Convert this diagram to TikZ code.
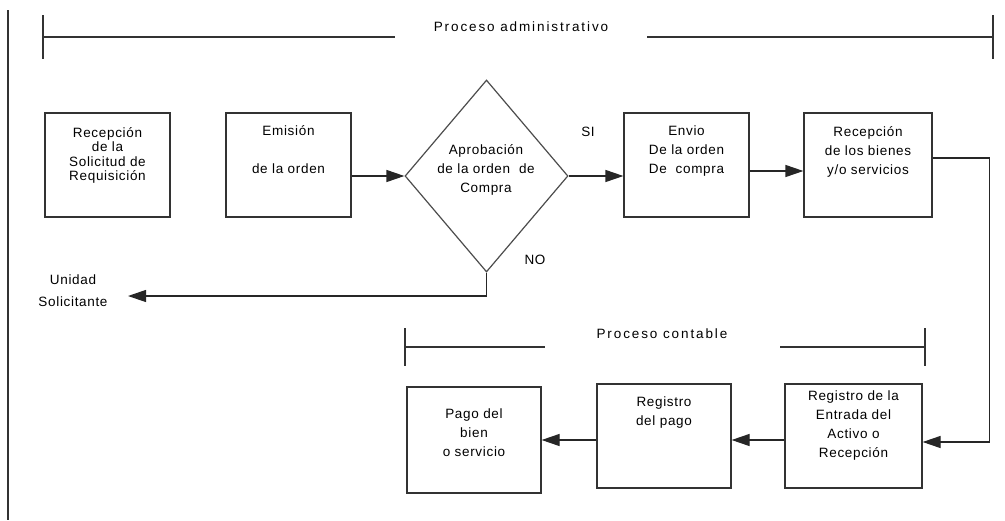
\documentclass[tikz,border=0pt]{standalone}
\usepackage{fontspec}
\setmainfont{Liberation Sans}[LetterSpace=5]
\newfontfamily\titulofont{Liberation Sans}[LetterSpace=14]
\usetikzlibrary{arrows.meta,positioning,shapes.geometric}
\tikzset{
	%Define standard arrow tip
	>={Triangle[length=18pt,width=12pt]},
	%Define style for boxes
	caja/.style={
		rectangle,
		draw=black!80, line width=1.2pt,
		minimum width=125pt,
		minimum height=104pt,
		inner sep=0pt},
	% Define style for texts
	texto/.style={
		font=\fontsize{13.5}{19}\selectfont,
		align=center,
		inner sep=0pt},
	% Define style for the titles
	titulo/.style={
		font=\titulofont\fontsize{13.5}{19}\selectfont,
		inner sep=0pt},
	% Define arrow style
	flecha/.style={
		->,
		draw=black!85,
		line width=1.2pt},
	% Define style for plain lines
	linea/.style={
		draw=black!80,
		line width=1.2pt}
}

\begin{document}
\begin{tikzpicture}[x=1pt,y=-1pt]
	\useasboundingbox (0,0) rectangle (1005,520);
	
	\draw[linea] (8,10) -- (8,520);
	
	% Proceso administrativo
	\node[titulo] (tit-adm) at (521,27) {Proceso administrativo};
	\draw[linea] (43,15) -- (43,59) (43,37) -- (395,37);
	\draw[linea] (647,37) -- (993,37) (993,15) -- (993,59);
	
	\node[caja] (recep) at (107.5,165) {};
	\node[texto, font=\fontsize{13.5}{14.5}\selectfont, below=14.5pt of recep.north] (recep-t) {Recepción\\de la\\Solicitud de\\Requisición};
	
	\node[caja] (emision) at (288.5,165) {};
	\node[texto, below=13pt of emision.north] (emision-t) {Emisión\\[19pt]de la orden};
	
	\node[diamond, draw=black!70, line width=1.2pt, minimum width=163pt, minimum height=192pt, inner sep=0pt] (aprob) at (486.5,176) {};
	\node[texto] (aprob-t) at (486,170) {Aprobación\\de la orden~~de\\Compra};
	\node[texto] (si) at (588,132) {SI};
	\node[texto] (no) at (535,260) {NO};
	
	\node[caja] (envio) at (686.5,165) {};
	\node[texto, below=13pt of envio.north] (envio-t) {Envio\\De la orden\\De~~compra};
	
	\node[caja, minimum width=128pt] (bienes) at (868,165) {};
	\node[texto, below=13.5pt of bienes.north] (bienes-t) {Recepción\\de los bienes\\y/o servicios};
	
	\node[texto, font=\fontsize{13.5}{22}\selectfont] (unidad) at (73,291) {Unidad\\Solicitante};
	\coordinate (fin-no) at (128,296);
	
	% Proceso contable
	\node[titulo] (tit-cont) at (662,334) {Proceso contable};
	\draw[linea] (405,328) -- (405,366) (405,347) -- (545,347);
	\draw[linea] (780,347) -- (925,347) (925,328) -- (925,366);
	
	\node[caja, minimum width=134pt, minimum height=106pt] (pago) at (474,440) {};
	\node[texto, below=22pt of pago.north] (pago-t) {Pago del\\bien\\o servicio};
	
	\node[caja, minimum width=134pt] (regpago) at (664,436) {};
	\node[texto, below=13pt of regpago.north] (regpago-t) {Registro\\del pago};
	
	\node[caja, minimum width=137pt] (regentrada) at (853.5,436) {};
	\node[texto, below=7pt of regentrada.north] (regentrada-t) {Registro de la\\Entrada del\\Activo o\\Recepción};
	
	% connectors
	\draw[flecha] (emision.east |- aprob.west) -- (aprob.west);
	\draw[flecha] (aprob.east) -- (envio.west |- aprob.east);
	\draw[flecha] ([yshift=-6pt]envio.east) -- ([yshift=-6pt]bienes.west);
	\draw[flecha] (aprob.south) |- (fin-no);
	\draw[flecha] ([yshift=7pt]bienes.east) -- ++(57,0) |- ([yshift=-6pt]regentrada.east);
	\draw[flecha] (regentrada.west |- pago.east) -- (regpago.east |- pago.east);
	\draw[flecha] (regpago.west |- pago.east) -- (pago.east);
	
\end{tikzpicture}
\end{document}
